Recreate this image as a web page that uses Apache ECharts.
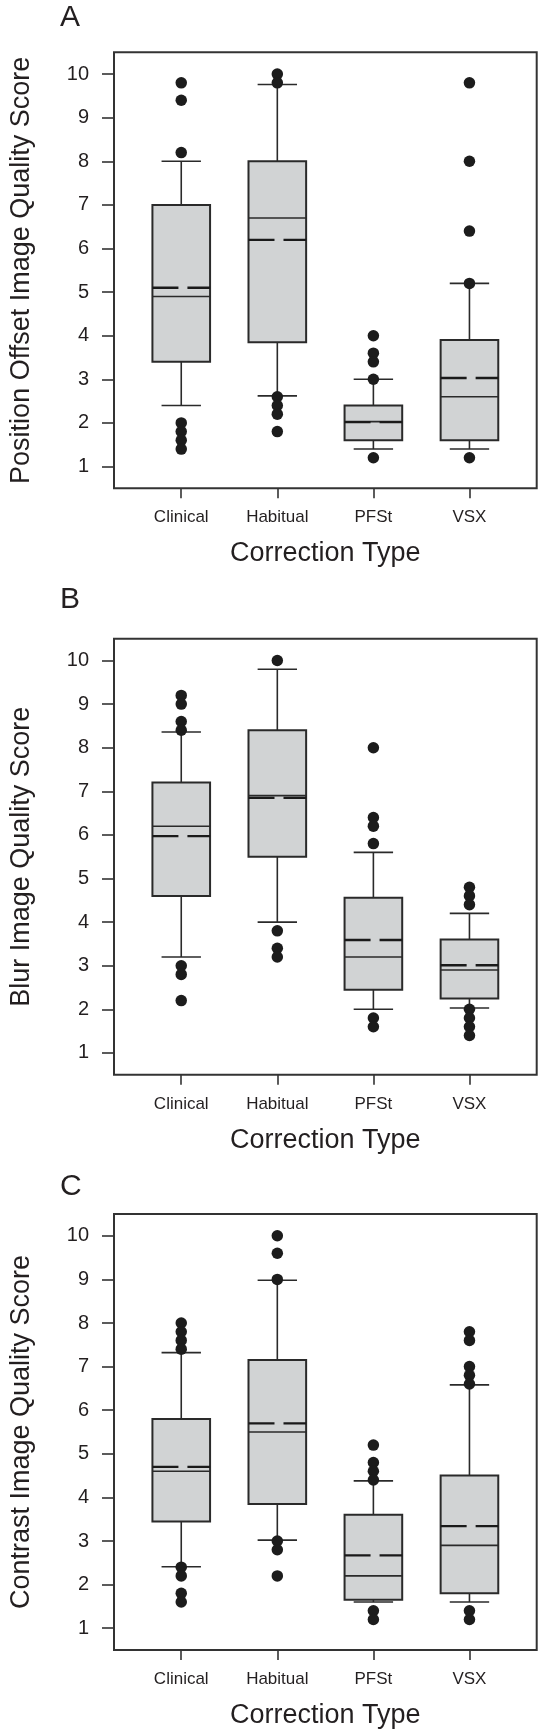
<!DOCTYPE html>
<html>
<head>
<meta charset="utf-8">
<script src="https://cdn.jsdelivr.net/npm/echarts@6/dist/echarts.min.js"></script>
<style>
html,body{margin:0;padding:0;background:#fff;}
#chart{width:538px;height:1731px;}
</style>
</head>
<body>
<div id="chart"></div>
<script>
// ---- data ----
const categories = ['Clinical', 'Habitual', 'PFSt', 'VSX'];
const yTickValues = [1, 2, 3, 4, 5, 6, 7, 8, 9, 10];
const panelLetters = ['A', 'B', 'C'];
const yAxisNames = ['Position Offset Image Quality Score', 'Blur Image Quality Score', 'Contrast Image Quality Score'];
const xAxisName = 'Correction Type';

// [lower whisker, Q1, median, Q3, upper whisker] per category
const statsA = [[2.4, 3.4, 4.9, 7.0, 8.0], [2.62, 3.85, 6.7, 8.0, 9.76], [1.4, 1.6, 2.03, 2.4, 3.0], [1.4, 1.6, 2.6, 3.9, 5.2]];
const meansA = [5.1, 6.2, 2.02, 3.03];
const outliersA = [[9.8, 9.4, 8.2, 2.0, 1.8, 1.6, 1.4], [10.0, 9.8, 2.6, 2.4, 2.2, 1.8], [4.0, 3.6, 3.4, 3.0, 1.2], [9.8, 8.0, 6.4, 5.2, 1.2]];

const statsB = [[3.2, 4.6, 6.2, 7.2, 8.36], [4.0, 5.5, 6.9, 8.4, 9.8], [2.0, 2.45, 3.2, 4.56, 5.6], [2.03, 2.25, 2.9, 3.6, 4.2]];
const meansB = [5.97, 6.85, 3.59, 3.01];
const outliersB = [[9.2, 9.0, 8.6, 8.4, 3.0, 2.8, 2.2], [10.0, 3.8, 3.4, 3.2], [8.0, 6.4, 6.2, 5.8, 1.8, 1.6], [4.8, 4.6, 4.4, 2.0, 1.8, 1.6, 1.4]];

const statsC = [[2.41, 3.45, 4.6, 5.8, 7.32], [3.02, 3.85, 5.5, 7.15, 8.98], [1.6, 1.65, 2.2, 3.6, 4.38], [1.6, 1.8, 2.9, 4.5, 6.58]];
const meansC = [4.7, 5.7, 2.67, 3.34];
const outliersC = [[8.0, 7.8, 7.6, 7.4, 2.4, 2.2, 1.8, 1.6], [10.0, 9.6, 9.0, 3.0, 2.8, 2.2], [5.2, 4.8, 4.6, 4.4, 1.4, 1.2], [7.8, 7.6, 7.0, 6.8, 6.6, 1.4, 1.2]];

// ---- layout / style ----
const FONT = "'Liberation Sans', Arial, Helvetica, sans-serif";
const TEXT = '#231f20';
const LINE = '#2a2a2a';
const BOX_FILL = '#d1d3d4';
const BOX_W = 0.6;
const CAP_W = 0.41;
const gridTops = [52.3, 638.7, 1214];
const GRID_LEFT = 103.3, GRID_W = 433.4, GRID_H = 436;
const letterTops = [-2.5, 579.5, 1166.5];

const panels = [
  { stats: statsA, means: meansA, outliers: outliersA },
  { stats: statsB, means: meansB, outliers: outliersB },
  { stats: statsC, means: meansC, outliers: outliersC }
];

function renderBox(params, api) {
  const x = api.value(0);
  const lo = api.coord([x, api.value(1)]);
  const q1 = api.coord([x, api.value(2)]);
  const md = api.coord([x, api.value(3)]);
  const q3 = api.coord([x, api.value(4)]);
  const hi = api.coord([x, api.value(5)]);
  const mn = api.coord([x, api.value(6)]);
  const bw = api.size([BOX_W, 0], [x, 0])[0];
  const cw = api.size([CAP_W, 0], [x, 0])[0];
  const cx = lo[0];
  const ls = { stroke: LINE, lineWidth: 1.6 };
  return {
    type: 'group',
    children: [
      { type: 'line', shape: { x1: cx, y1: q3[1], x2: cx, y2: hi[1] }, style: ls },
      { type: 'line', shape: { x1: cx, y1: q1[1], x2: cx, y2: lo[1] }, style: ls },
      { type: 'line', shape: { x1: cx - cw / 2, y1: hi[1], x2: cx + cw / 2, y2: hi[1] }, style: ls },
      { type: 'line', shape: { x1: cx - cw / 2, y1: lo[1], x2: cx + cw / 2, y2: lo[1] }, style: ls },
      { type: 'rect', shape: { x: cx - bw / 2, y: q3[1], width: bw, height: q1[1] - q3[1] },
        style: { fill: BOX_FILL, stroke: LINE, lineWidth: 2 } },
      { type: 'line', shape: { x1: cx - bw / 2, y1: md[1], x2: cx + bw / 2, y2: md[1] },
        style: { stroke: LINE, lineWidth: 1.6 } },
      { type: 'line', shape: { x1: cx - bw / 2, y1: mn[1], x2: cx + bw / 2, y2: mn[1] },
        style: { stroke: '#1a1a1a', lineWidth: 2.3, lineDash: [26, 9] } }
    ]
  };
}

const grids = [], xAxes = [], yAxes = [], series = [], titles = [];
panels.forEach((p, i) => {
  grids.push({ left: GRID_LEFT, top: gridTops[i], width: GRID_W, height: GRID_H,
    show: true, borderColor: '#333', borderWidth: 2, backgroundColor: 'transparent' });
  xAxes.push({
    gridIndex: i, type: 'value', min: -0.7, max: 3.7, position: 'bottom',
    name: xAxisName, nameLocation: 'middle', nameGap: 52,
    nameTextStyle: { fontFamily: FONT, fontSize: 27, color: TEXT },
    axisLine: { show: false, onZero: false }, splitLine: { show: false },
    axisTick: { show: true, length: 10, customValues: [0, 1, 2, 3], lineStyle: { color: '#333', width: 1.6 } },
    axisLabel: { customValues: [0, 1, 2, 3], margin: 21, fontFamily: FONT, fontSize: 17, color: TEXT,
      formatter: v => categories[Math.round(v)] }
  });
  yAxes.push({
    gridIndex: i, type: 'value', min: 0.5, max: 10.5, position: 'left',
    name: yAxisNames[i], nameLocation: 'middle', nameGap: 79,
    nameTextStyle: { fontFamily: FONT, fontSize: 27, color: TEXT },
    axisLine: { show: false, onZero: false }, splitLine: { show: false },
    axisTick: { show: true, length: 12, customValues: yTickValues, lineStyle: { color: '#333', width: 1.6 } },
    axisLabel: { customValues: yTickValues, margin: 25, fontFamily: FONT, fontSize: 20, color: TEXT }
  });
  const boxData = p.stats.map((s, k) => [k, s[0], s[1], s[2], s[3], s[4], p.means[k]]);
  series.push({
    type: 'custom', xAxisIndex: i, yAxisIndex: i, renderItem: renderBox,
    encode: { x: 0, y: [1, 2, 3, 4, 5, 6] }, data: boxData, silent: true, z: 2
  });
  const outData = [];
  p.outliers.forEach((arr, k) => arr.forEach(v => outData.push([k, v])));
  series.push({
    type: 'scatter', xAxisIndex: i, yAxisIndex: i, data: outData, symbol: 'circle', symbolSize: 11.5,
    itemStyle: { color: '#1c1c1c', opacity: 1 }, silent: true, z: 3
  });
  titles.push({ text: panelLetters[i], left: 55, top: letterTops[i],
    textStyle: { fontFamily: FONT, fontSize: 30, fontWeight: 'normal', color: TEXT } });
});

const chart = echarts.init(document.getElementById('chart'), null, { renderer: 'canvas' });
chart.setOption({
  animation: false,
  backgroundColor: '#fff',
  title: titles,
  grid: grids,
  xAxis: xAxes,
  yAxis: yAxes,
  series: series
});
</script>
</body>
</html>
